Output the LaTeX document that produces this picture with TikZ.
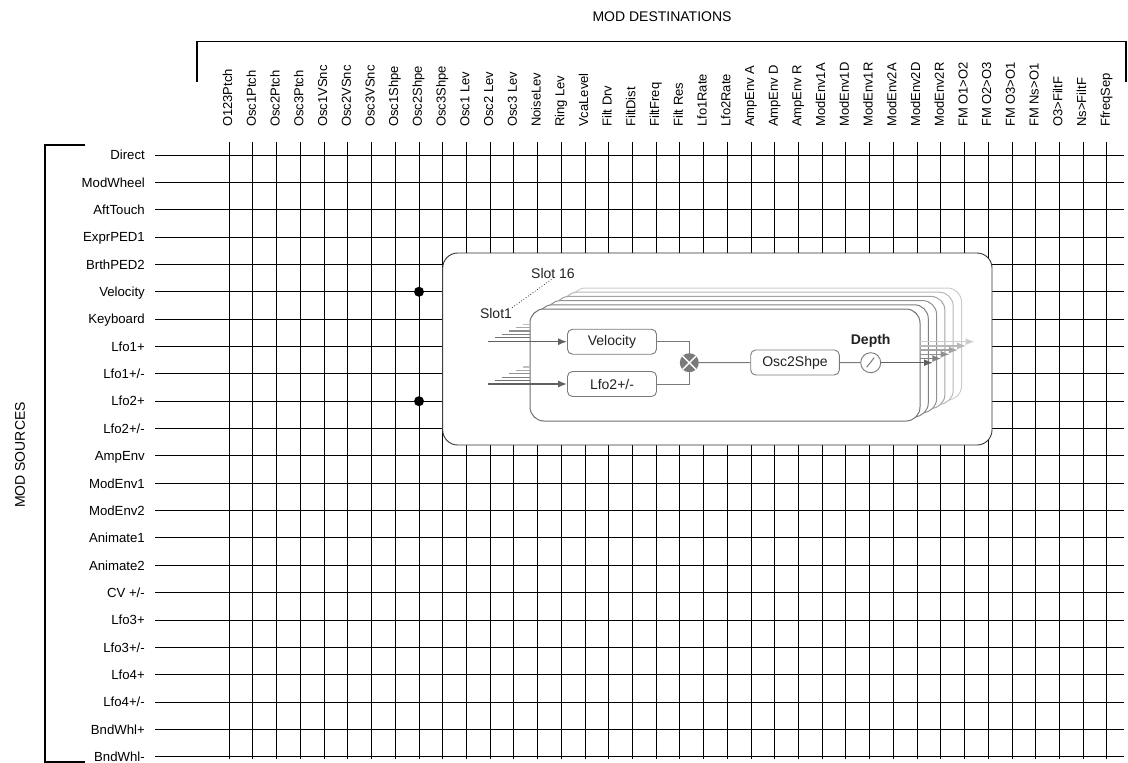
\documentclass[tikz,border=0pt]{standalone}
\usepackage{fontspec}
\setmainfont{Liberation Sans}
\usetikzlibrary{arrows.meta,positioning}
\definecolor{slotGray}{HTML}{7A7A7A}
\definecolor{panelLine}{HTML}{333333}
\definecolor{textDark}{HTML}{222222}

\begin{document}
\begin{tikzpicture}[x=1pt, y=-1pt,
    gridline/.style={draw=black, line width=0.9pt},
    bracket/.style={draw=black, line width=1.3pt},
    srclbl/.style={anchor=base east, inner sep=0pt, font=\fontsize{13.2}{16}\selectfont},
    dstlbl/.style={anchor=base west, rotate=90, inner sep=0pt, font=\fontsize{13}{16}\selectfont},
    heading/.style={inner sep=0pt, font=\fontsize{14}{17}\selectfont},
    patch/.style={circle, fill=black, inner sep=0pt, minimum size=10pt},
    panel/.style={draw=panelLine, fill=white, rounded corners=15pt, line width=0.9pt},
    slotframe/.style={fill=white, rounded corners=14pt, line width=1pt},
    block/.style={rectangle, rounded corners=5pt, draw=slotGray, fill=white, line width=0.9pt, minimum width=89pt, minimum height=25pt, font=\fontsize{14}{17}\selectfont, text=textDark},
    link/.style={draw=slotGray, line width=1pt},
    flow/.style={link, line width=1.4pt, -{Latex[length=9pt,width=7pt]}},
    slotlbl/.style={inner sep=0pt, font=\fontsize{14}{17}\selectfont, text=textDark}
  ]
  \useasboundingbox (0,0) rectangle (1128,763);

  % brackets and headings
  \node[heading] (dsttitle) at (662,17) {MOD DESTINATIONS};
  \node[heading, rotate=90] (srctitle) at (20,455) {MOD SOURCES};
  \draw[bracket] (197,82) -- (197,41.7) -- (1126,41.7) -- (1126,82);
  \draw[bracket] (85,145) -- (45,145) -- (45,762) -- (85,762);

  % matrix grid
  \foreach \j in {0,...,22}
    \draw[gridline] (155,155+27.35*\j) -- (1124,155+27.35*\j);
  \foreach \i in {0,...,37}
    \draw[gridline] (229.2+23.72*\i,142) -- (229.2+23.72*\i,759);

  \foreach \lbl [count=\j from 0] in {Direct, ModWheel, AftTouch, ExprPED1, BrthPED2, Velocity, Keyboard, Lfo1+, Lfo1+/-, Lfo2+, Lfo2+/-, AmpEnv, ModEnv1, ModEnv2, Animate1, Animate2, CV +/-, Lfo3+, Lfo3+/-, Lfo4+, Lfo4+/-, BndWhl+, BndWhl-}
    \node[srclbl] (src\j) at (145,159.8+27.35*\j) {\lbl};
  \foreach \lbl [count=\i from 0] in {O123Ptch, Osc1Ptch, Osc2Ptch, Osc3Ptch, Osc1VSnc, Osc2VSnc, Osc3VSnc, Osc1Shpe, Osc2Shpe, Osc3Shpe, Osc1 Lev, Osc2 Lev, Osc3 Lev, NoiseLev, Ring Lev, VcaLevel, Filt Drv, FiltDist, FiltFreq, Filt Res, Lfo1Rate, Lfo2Rate, AmpEnv A, AmpEnv D, AmpEnv R, ModEnv1A, ModEnv1D, ModEnv1R, ModEnv2A, ModEnv2D, ModEnv2R, FM O1>O2, FM O2>O3, FM O3>O1, FM Ns>O1, O3>FiltF, Ns>FiltF, FfreqSep}
    \node[dstlbl] (dst\i) at (232.2+23.72*\i,127) {\lbl};

  % active patch points
  \node[patch] (pvel) at (419,291.75) {};
  \node[patch] (plfo) at (419,401.2) {};

  % slot detail panel
  \draw[panel] (442.7,253) rectangle (992,445);
  \foreach \k/\tone in {5/20,4/28,3/36,2/43,1/50}
    \draw[slotframe, draw=black!\tone, shift={(8.3*\k,-4.2*\k)}] (530,309) rectangle (920,421);
  \draw[slotframe, draw=black!56] (530,309) rectangle (920,421);

  \node[slotlbl] (slot1) at (496,313) {Slot1};
  \node[slotlbl] (slot16) at (553,273) {Slot 16};
  \draw[black!80, dotted, line width=0.8pt] (slot1.north east) -- (slot16.south);

  \node[block] (vel) at (612,341.7) {Velocity};
  \node[block] (lfo) at (612,384) {Lfo2+/-};
  \node[circle, fill=slotGray, inner sep=0pt, minimum size=19pt,
    path picture={\draw[white, line width=1.4pt]
      (path picture bounding box.north west) -- (path picture bounding box.south east)
      (path picture bounding box.north east) -- (path picture bounding box.south west);}]
    (mult) at (689.3,362.7) {};
  \node[block, minimum width=88.6pt] (shape) at (795,362.5) {Osc2Shpe};
  \node[circle, draw=slotGray, fill=white, line width=0.9pt, inner sep=0pt, minimum size=20pt,
    path picture={\draw[slotGray, line width=1pt]
      ([shift={(-4,4.5)}]path picture bounding box.center) -- ([shift={(3.5,-5)}]path picture bounding box.center);}]
    (depth) at (870.7,362.7) {};
  \node[inner sep=0pt, font=\fontsize{14}{17}\selectfont\bfseries, text=textDark] (depthlbl) at (870.7,340.5) {Depth};

  % inputs of the stacked slots
  \foreach \k/\tone in {5/25,4/35,3/43,2/50,1/56} {
    \draw[link, line width=1.2pt, draw=black!\tone] (488+7*\k,341.2-3.4*\k) -- (530,341.2-3.4*\k);
    \draw[link, line width=1.2pt, draw=black!\tone] (488+7*\k,384-3.4*\k) -- (530,384-3.4*\k);
  }
  \coordinate (velin) at (488,341.7);
  \coordinate (lfoin) at (488,384);
  \draw[flow, draw=black!62] (velin) -- (vel.west);
  \draw[flow, draw=black!62] (lfoin) -- (lfo.west);

  \draw[link] (vel.east) -| (mult.north);
  \draw[link] (lfo.east) -| (mult.south);
  \draw[link] (mult) -- (shape);
  \draw[link] (shape) -- (depth);

  % outputs of the stacked slots
  \coordinate (out) at (933,362.7);
  \draw[flow, draw=black!62] (depth) -- (out);
  \foreach \k/\tone in {5/20,4/28,3/36,2/43,1/50}
    \draw[flow, draw=black!\tone] (920,362.7-4.2*\k) -- (933+8.3*\k,362.7-4.2*\k);
\end{tikzpicture}
\end{document}
